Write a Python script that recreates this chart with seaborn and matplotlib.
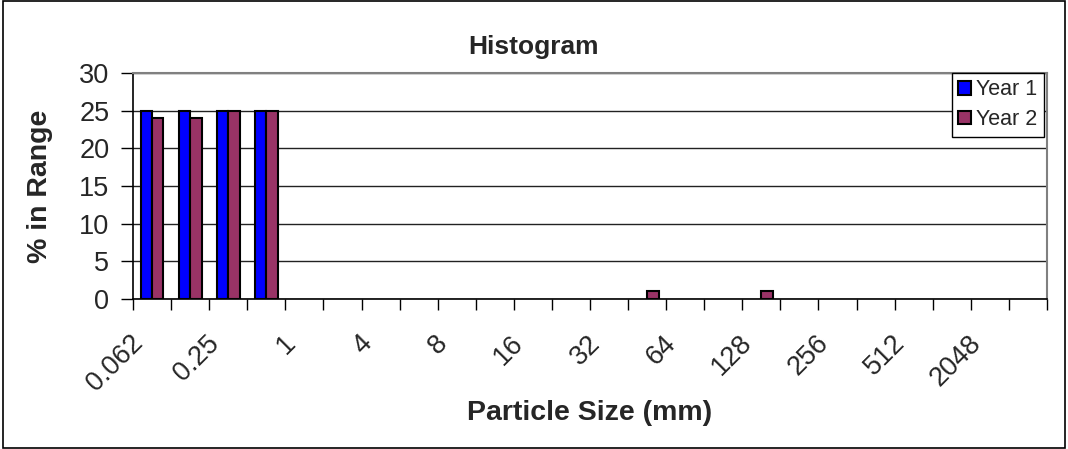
import matplotlib
matplotlib.use("Agg")
import matplotlib.pyplot as plt
import matplotlib.transforms as mtransforms
import seaborn as sns
import pandas as pd
from matplotlib.patches import Rectangle, Patch

# ---- data ----
n_categories = 24
tick_labels = ["0.062", "0.25", "1", "4", "8", "16", "32", "64", "128", "256", "512", "2048"]
year1 = [25, 25, 25, 25, 0, 0, 0, 0, 0, 0, 0, 0, 0, 0, 0, 0, 0, 0, 0, 0, 0, 0, 0, 0]
year2 = [24, 24, 25, 25, 0, 0, 0, 0, 0, 0, 0, 0, 0, 1, 0, 0, 1, 0, 0, 0, 0, 0, 0, 0]
series_names = ["Year 1", "Year 2"]
colors = ["#0000FF", "#993366"]

df = pd.DataFrame({
    "pos": list(range(n_categories)) * 2,
    "value": year1 + year2,
    "series": [series_names[0]] * n_categories + [series_names[1]] * n_categories,
})

sns.set_style("white")
plt.rcParams["font.family"] = ["Liberation Sans", "DejaVu Sans"]

fig = plt.figure(figsize=(10.68, 4.49), dpi=100)
ax = fig.add_axes([133 / 1068, 1 - 299 / 449, (1047 - 133) / 1068, (299 - 73) / 449])

sns.barplot(data=df, x="pos", y="value", hue="series", palette=colors,
            width=0.6, edgecolor="black", linewidth=1.5, ax=ax, legend=False,
            order=list(range(n_categories)), hue_order=series_names, saturation=1)

# hide outlines of empty bars (Excel does not draw them)
for p in ax.patches:
    if p.get_height() == 0:
        p.set_linewidth(0)

ax.set_xlim(-0.5, n_categories - 0.5)
ax.set_ylim(0, 30)
ax.set_yticks(range(0, 31, 5))
ax.yaxis.grid(True, color="#222222", linewidth=1)
ax.set_axisbelow(True)

# category ticks (between categories) and labels every other category
ax.set_xticks([i - 0.5 for i in range(n_categories + 1)], minor=True)
ax.set_xticks(list(range(0, n_categories, 2)))
ax.set_xticklabels(tick_labels, rotation=45, ha="right", va="center", rotation_mode="anchor",
                   fontsize=19.5)
ax.tick_params(axis="x", which="major", length=0, pad=29)
ax.tick_params(axis="x", which="minor", length=8, width=1, color="black", direction="out", bottom=True)
ax.tick_params(axis="y", length=9, width=1, color="black", direction="out", left=True, labelsize=19.5, pad=8)

shift = mtransforms.ScaledTranslation(-13 / 100, 0, fig.dpi_scale_trans)
for lab in ax.get_xticklabels():
    lab.set_transform(lab.get_transform() + shift)

for side in ["top", "right"]:
    ax.spines[side].set_visible(True)
    ax.spines[side].set_color("#808080")
    ax.spines[side].set_linewidth(1.5)
for side in ["left", "bottom"]:
    ax.spines[side].set_color("black")
    ax.spines[side].set_linewidth(1.2)

ax.set_xlabel("Particle Size (mm)", fontsize=20.5, fontweight="bold")
ax.xaxis.set_label_coords(0.5, -0.445)
ax.set_ylabel("% in Range", fontsize=20.5, fontweight="bold")
ax.yaxis.set_label_coords(-0.088, 0.5)
fig.text(0.5, 1 - 47 / 449, "Histogram", ha="center", va="center", fontsize=19, fontweight="bold")

handles = [Patch(facecolor=c, edgecolor="black", linewidth=1.5) for c in colors]
leg = ax.legend(handles, series_names, loc="upper right", bbox_to_anchor=(1.0 - 3 / 914, 1.0),
                fontsize=15.5, frameon=True, fancybox=False, framealpha=1, edgecolor="black",
                handlelength=0.6, handleheight=0.6, handletextpad=0.25, borderpad=0.3,
                labelspacing=0.4, borderaxespad=0.0)
leg.get_frame().set_linewidth(1)

fig.patches.append(Rectangle((0.003, 0.003), 0.994, 0.994, transform=fig.transFigure,
                             fill=False, edgecolor="black", linewidth=1.2))

fig.savefig("out.png", dpi=100)
